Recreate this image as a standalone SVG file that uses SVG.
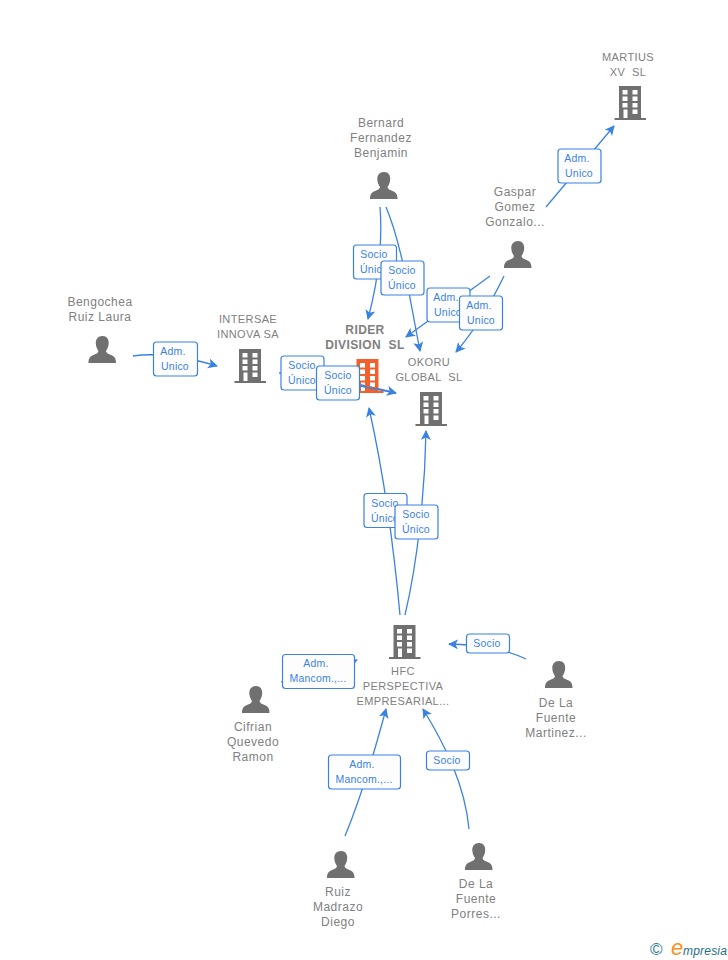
<svg xmlns="http://www.w3.org/2000/svg" width="728" height="960" viewBox="0 0 728 960">
<style>
text{font-family:"Liberation Sans",Arial,sans-serif;white-space:pre}
.n{font-size:12px;fill:#808080;text-anchor:middle;letter-spacing:.5px}
.c{font-size:11px;fill:#808080;text-anchor:middle;letter-spacing:.4px}
.b{font-size:12px;font-weight:bold;fill:#808080;text-anchor:middle;letter-spacing:.4px}
.l{font-size:10.500px;fill:#3b82e0;text-anchor:middle;letter-spacing:.2px}
.e{fill:none;stroke:#3b82e0;stroke-width:1.3}
.r{fill:#fdfdfe;stroke:#3b82e0;stroke-width:1.2}
.g{fill:#707070}
</style>
<defs>
<marker id="a" markerWidth="12" markerHeight="12" refX="9" refY="5" orient="auto" markerUnits="userSpaceOnUse"><path d="M0 0L10 5L0 10L2.500 5Z" fill="#3b82e0"/></marker>
<path id="bld" fill-rule="evenodd" d="M4.500 0H26.500V32H31.500V34H0V32H4.500ZM8 4V8.500H13V4ZM18 4V8.500H23V4ZM8 10.500V15H13V10.500ZM18 10.500V15H23V10.500ZM8 17V21.500H13V17ZM18 17V21.500H23V17ZM9 23.500V32H13V23.500ZM18 23.500V28H23V23.500Z"/>
<path id="per" d="M14 0C18.500 0 20.500 3.500 20.200 7.500C20 11 18.500 13.500 17.500 15C17.500 17 20 18 23 19.300C26.500 20.800 27.500 23 27.500 27H0C0 23 1 20.800 4.500 19.300C7.500 18 10 17 10 15C9 13.500 7.500 11 7.300 7.500C7 3.500 9.500 0 14 0Z"/>
</defs>
<g id="connectors">
<path class="e" d="M546 207L614 126" marker-end="url(#a)"/>
<path class="e" d="M380 207C383 245 377 285 368 319" marker-end="url(#a)"/>
<path class="e" d="M386 207C402 245 410 300 420 351" marker-end="url(#a)"/>
<path class="e" d="M490 276L406 337" marker-end="url(#a)"/>
<path class="e" d="M504 276C491 303 475 330 456 352" marker-end="url(#a)"/>
<path class="e" d="M133 356C160 352 190 358 217 366" marker-end="url(#a)"/>
<path class="e" d="M279 373C320 375 360 384 396 393" marker-end="url(#a)"/>
<path class="e" d="M400 615C395 560 385 480 369 408" marker-end="url(#a)"/>
<path class="e" d="M405 615C418 560 425 490 426 431" marker-end="url(#a)"/>
<path class="e" d="M526 659C500 647 475 645 449 644" marker-end="url(#a)"/>
<path class="e" d="M281 682C305 675 335 670 357 660" marker-end="url(#a)"/>
<path class="e" d="M345 836C360 800 375 750 386 709" marker-end="url(#a)"/>
<path class="e" d="M469 829C465 785 445 745 423 709" marker-end="url(#a)"/>
</g>
<g id="edge-labels">
<g><rect class="r" x="558" y="149" width="43" height="34" rx="3"/><text class="l" x="577" y="162">Adm.</text><text class="l" x="579" y="177">Unico</text></g>
<g><rect class="r" x="353.500" y="245" width="43" height="34" rx="3"/><text class="l" x="374" y="258">Socio</text><text class="l" x="374" y="273">Único</text></g>
<g><rect class="r" x="381" y="261" width="43" height="34" rx="3"/><text class="l" x="402" y="274">Socio</text><text class="l" x="402" y="289">Único</text></g>
<g><rect class="r" x="427" y="288" width="43" height="34" rx="3"/><text class="l" x="446" y="301">Adm.</text><text class="l" x="448" y="316">Unico</text></g>
<g><rect class="r" x="459.500" y="296" width="43" height="34" rx="3"/><text class="l" x="479" y="309">Adm.</text><text class="l" x="481" y="324">Unico</text></g>
<g><rect class="r" x="153.500" y="342" width="44" height="34" rx="3"/><text class="l" x="173" y="355">Adm.</text><text class="l" x="175" y="370">Unico</text></g>
<g><rect class="r" x="281" y="356" width="43" height="34" rx="3"/><text class="l" x="302" y="369">Socio</text><text class="l" x="302" y="384">Único</text></g>
</g>
<g id="rider"><use href="#bld" x="352" y="359" style="fill:#f4602c"/><text class="b" x="365" y="334">RIDER</text><text class="b" x="365" y="349">DIVISION  SL</text></g>
<g id="edge-labels-top">
<g><rect class="r" x="316.500" y="366" width="43" height="34" rx="3"/><text class="l" x="338" y="379">Socio</text><text class="l" x="338" y="394">Único</text></g>
<path class="e" d="M360 386L396 393"/>
<g><rect class="r" x="364" y="493.500" width="43" height="34" rx="3"/><text class="l" x="385" y="507">Socio</text><text class="l" x="385" y="522">Único</text></g>
<g><rect class="r" x="395" y="505" width="43" height="34" rx="3"/><text class="l" x="416" y="518">Socio</text><text class="l" x="416" y="533">Único</text></g>
<g><rect class="r" x="466.500" y="634" width="43" height="19" rx="3"/><text class="l" x="487" y="647">Socio</text></g>
<g><rect class="r" x="282.500" y="654.500" width="72" height="34" rx="3"/><text class="l" x="316" y="667">Adm.</text><text class="l" x="318" y="682">Mancom.,...</text></g>
<g><rect class="r" x="328.500" y="755" width="72" height="34" rx="3"/><text class="l" x="362" y="768">Adm.</text><text class="l" x="364" y="783">Mancom.,...</text></g>
<g><rect class="r" x="426.500" y="751" width="43" height="19" rx="3"/><text class="l" x="447" y="764">Socio</text></g>
</g>
<g id="martius" class="g"><use href="#bld" x="614.500" y="86"/><text class="c" x="628" y="61">MARTIUS</text><text class="c" x="628" y="76">XV  SL</text></g>
<g id="bernard" class="g"><use href="#per" x="370" y="172"/><text class="n" x="381" y="127">Bernard</text><text class="n" x="381" y="142">Fernandez</text><text class="n" x="381" y="157">Benjamin</text></g>
<g id="gaspar" class="g"><use href="#per" x="504" y="241"/><text class="n" x="515" y="196">Gaspar</text><text class="n" x="515" y="211">Gomez</text><text class="n" x="515" y="226">Gonzalo...</text></g>
<g id="bengochea" class="g"><use href="#per" x="88.500" y="336"/><text class="n" x="100" y="306">Bengochea</text><text class="n" x="100" y="321">Ruiz Laura</text></g>
<g id="intersae" class="g"><use href="#bld" x="234.500" y="349"/><text class="c" x="248" y="323">INTERSAE</text><text class="c" x="248" y="338">INNOVA SA</text></g>
<g id="okoru" class="g"><use href="#bld" x="415.500" y="392"/><text class="c" x="429" y="366">OKORU</text><text class="c" x="429" y="381">GLOBAL  SL</text></g>
<g id="hfc" class="g"><use href="#bld" x="389" y="625"/><text class="c" x="403" y="675">HFC</text><text class="c" x="403" y="690">PERSPECTIVA</text><text class="c" x="403" y="705">EMPRESARIAL...</text></g>
<g id="cifrian" class="g"><use href="#per" x="242" y="686"/><text class="n" x="253" y="731">Cifrian</text><text class="n" x="253" y="746">Quevedo</text><text class="n" x="253" y="761">Ramon</text></g>
<g id="martinez" class="g"><use href="#per" x="545" y="661"/><text class="n" x="556" y="707">De La</text><text class="n" x="556" y="722">Fuente</text><text class="n" x="556" y="737">Martinez...</text></g>
<g id="ruiz" class="g"><use href="#per" x="327" y="851"/><text class="n" x="338" y="896">Ruiz</text><text class="n" x="338" y="911">Madrazo</text><text class="n" x="338" y="926">Diego</text></g>
<g id="porres" class="g"><use href="#per" x="465" y="843"/><text class="n" x="476" y="888">De La</text><text class="n" x="476" y="903">Fuente</text><text class="n" x="476" y="918">Porres...</text></g>
<g id="logo"><text x="650" y="955" style="font-size:17px;fill:#2f7a94">©</text><text x="671" y="955" style="font-size:22px;fill:#f7931e;font-style:italic">e</text><text x="683" y="955" style="font-size:12px;fill:#1e6c86;font-style:italic;letter-spacing:.2px">mpresia</text></g>
</svg>
